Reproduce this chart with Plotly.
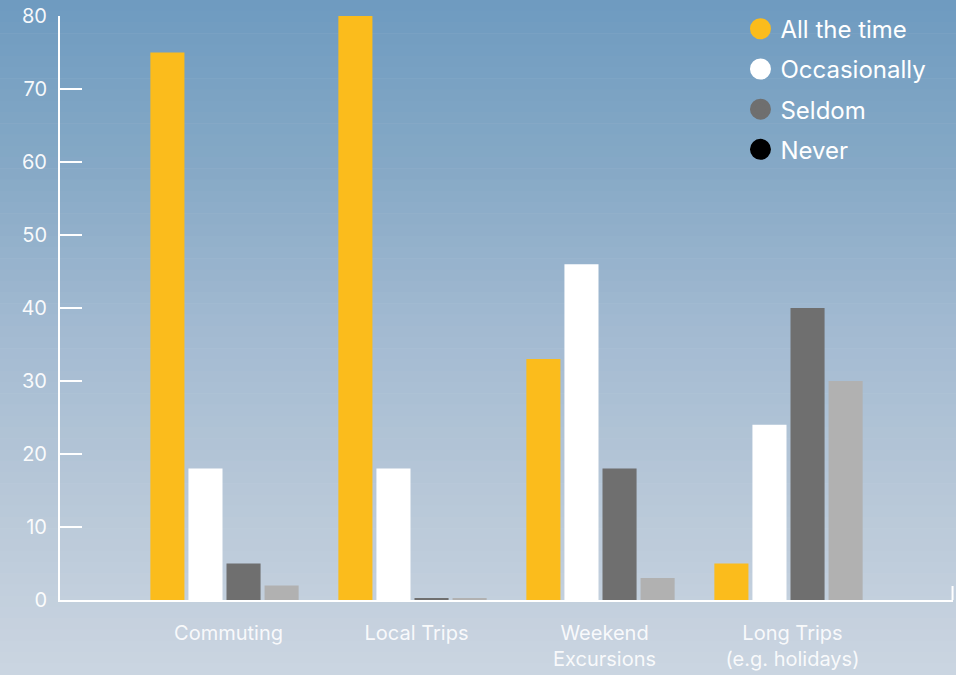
import plotly.graph_objects as go

categories = ["Commuting", "Local Trips", "Weekend<br>Excursions", "Long Trips<br>(e.g. holidays)"]
series_names = ["All the time", "Occasionally", "Seldom", "Never"]
all_the_time = [75, 80, 33, 5]
occasionally = [18, 18, 46, 24]
seldom = [5, 0.2, 18, 40]
never = [2, 0.2, 3, 30]
y_ticks = [0, 10, 20, 30, 40, 50, 60, 70, 80]

bar_colors = ["#fbbc1c", "#ffffff", "#6f6f6f", "#b1b1b1"]
legend_colors = ["#fbbc1c", "#ffffff", "#6f6f6f", "#000000"]

FONT = "Inter"
TEXT_COLOR = "rgba(255,255,255,0.95)"

fig = go.Figure()
xs = list(range(len(categories)))
for name, vals, col in zip(series_names, [all_the_time, occasionally, seldom, never], bar_colors):
    fig.add_trace(go.Bar(x=xs, y=vals, name=name, marker=dict(color=col, line=dict(width=0)),
                         showlegend=False))
for i, (name, col) in enumerate(zip(series_names, legend_colors)):
    fig.add_trace(go.Scatter(x=[None], y=[None], mode="markers", name=name,
                             legendgroup=f"g{i}",
                             marker=dict(color=col, size=20, symbol="circle",
                                         line=dict(color=col, width=5))))

# gradient background stripes
stops = [(0, (110, 155, 192)), (170, (134, 169, 198)), (340, (164, 187, 210)),
         (500, (184, 200, 216)), (675, (203, 213, 225))]
shapes = []
N = 60
H = 675
for k in range(N):
    py0 = H * k / N
    py1 = H * (k + 1) / N
    pm = (py0 + py1) / 2
    for j in range(len(stops) - 1):
        a, ca = stops[j]
        b, cb = stops[j + 1]
        if a <= pm <= b:
            t = (pm - a) / (b - a)
            c = tuple(int(round(ca[m] + (cb[m] - ca[m]) * t)) for m in range(3))
            break
    y0 = (600 - py1) / 584
    y1 = (600 - py0) / 584 + 0.001
    shapes.append(dict(type="rect", xref="paper", yref="paper", x0=-0.08, x1=1.02,
                       y0=y0, y1=y1, fillcolor=f"rgb{c}", line=dict(width=0), layer="below"))
# right end tick of x axis
shapes.append(dict(type="line", xref="paper", yref="paper", x0=0.9995, x1=0.9995,
                   y0=0, y1=14 / 584, line=dict(color="white", width=2), layer="above"))

fig.update_layout(
    width=956, height=675,
    margin=dict(l=60, r=3, t=16, b=75),
    paper_bgcolor="rgb(203,213,225)",
    plot_bgcolor="rgba(0,0,0,0)",
    barmode="group",
    bargap=0.19,
    bargroupgap=0.105,
    shapes=shapes,
    font=dict(family=FONT, color=TEXT_COLOR),
    legend=dict(x=0.762, y=1.016, xanchor="left", yanchor="top",
                bgcolor="rgba(0,0,0,0)", font=dict(size=24, color="white", family=FONT),
                traceorder="grouped", tracegroupgap=6, itemwidth=30),
    xaxis=dict(range=[-0.875, 3.875], tickvals=xs, ticktext=categories,
               showgrid=False, zeroline=False, showline=True, linecolor="white", linewidth=2,
               ticks="", tickfont=dict(size=20, color="rgba(255,255,255,0.9)", family=FONT),
               ticklabelstandoff=14, ticklabelshift=4),
    yaxis=dict(range=[0, 80], tickvals=y_ticks, showgrid=False, zeroline=False,
               showline=True, linecolor="white", linewidth=2,
               ticks="inside", ticklen=22, tickwidth=2, tickcolor="white",
               tickfont=dict(size=20, color=TEXT_COLOR, family=FONT),
               ticklabelstandoff=7),
)

fig.write_html("out.html")
